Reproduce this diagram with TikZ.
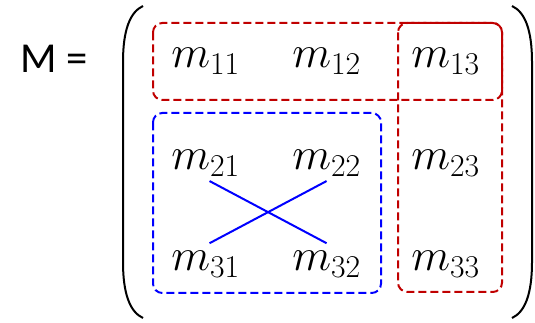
\RequirePackage{fix-cm}
\documentclass[tikz,border=0pt]{standalone}
\usepackage{fontspec}
\newfontfamily\lhsfont{Carlito}
\usetikzlibrary{calc}

\definecolor{grpred}{RGB}{192,0,0}
\definecolor{grpblue}{RGB}{0,0,255}

\tikzset{
  entry/.style={anchor=base west, inner sep=0pt, font=\fontsize{34}{40}\selectfont},
  lhs/.style={anchor=base west, inner sep=0pt, font=\lhsfont\fontsize{32}{38}\selectfont},
  grpbox/.style={dash pattern=on 6pt off 3pt, line width=1.5pt, rounded corners=7pt},
  paren/.style={line width=1.5pt},
  crossln/.style={color=grpblue, line width=1.5pt}
}

\begin{document}
\begin{tikzpicture}[x=0.75pt,y=0.75pt,yscale=-1,xscale=1]
 \useasboundingbox (0,0) rectangle (535,323);

 % Text Node
 \node [lhs] (lhs) at (20,73) {M =};

 %Shape: brackets
 \draw [paren] (143,6) .. controls (130,12) and (123,30) .. (123,62) -- (123,262) .. controls (123,294) and (130,312) .. (143,318);
 \draw [paren] (512,6) .. controls (525,12) and (532,30) .. (532,62) -- (532,262) .. controls (532,294) and (525,312) .. (512,318);

 % entries
 \node [entry] (m11) at (171,68) {$m_{11}$};
 \node [entry] (m12) at (292,68) {$m_{12}$};
 \node [entry] (m13) at (411,68) {$m_{13}$};
 \node [entry] (m21) at (171,170) {$m_{21}$};
 \node [entry] (m22) at (292,170) {$m_{22}$};
 \node [entry] (m23) at (411,170) {$m_{23}$};
 \node [entry] (m31) at (171,271) {$m_{31}$};
 \node [entry] (m32) at (292,271) {$m_{32}$};
 \node [entry] (m33) at (411,271) {$m_{33}$};

 %Shape: Rectangle groups
 \draw [grpbox, color=grpred] (153,23) rectangle (502,100);
 \draw [grpbox, color=grpred] (398,23) rectangle (502,292);
 \draw [grpbox, color=grpblue] (153,113) rectangle (381,293);

 %Straight Lines
 \draw [crossln] ($(m21.south)+(4,4)$) -- ($(m32.north)+(0,-8)$);
 \draw [crossln] ($(m31.north)+(4,-8)$) -- ($(m22.south)+(0,4)$);

\end{tikzpicture}
\end{document}
